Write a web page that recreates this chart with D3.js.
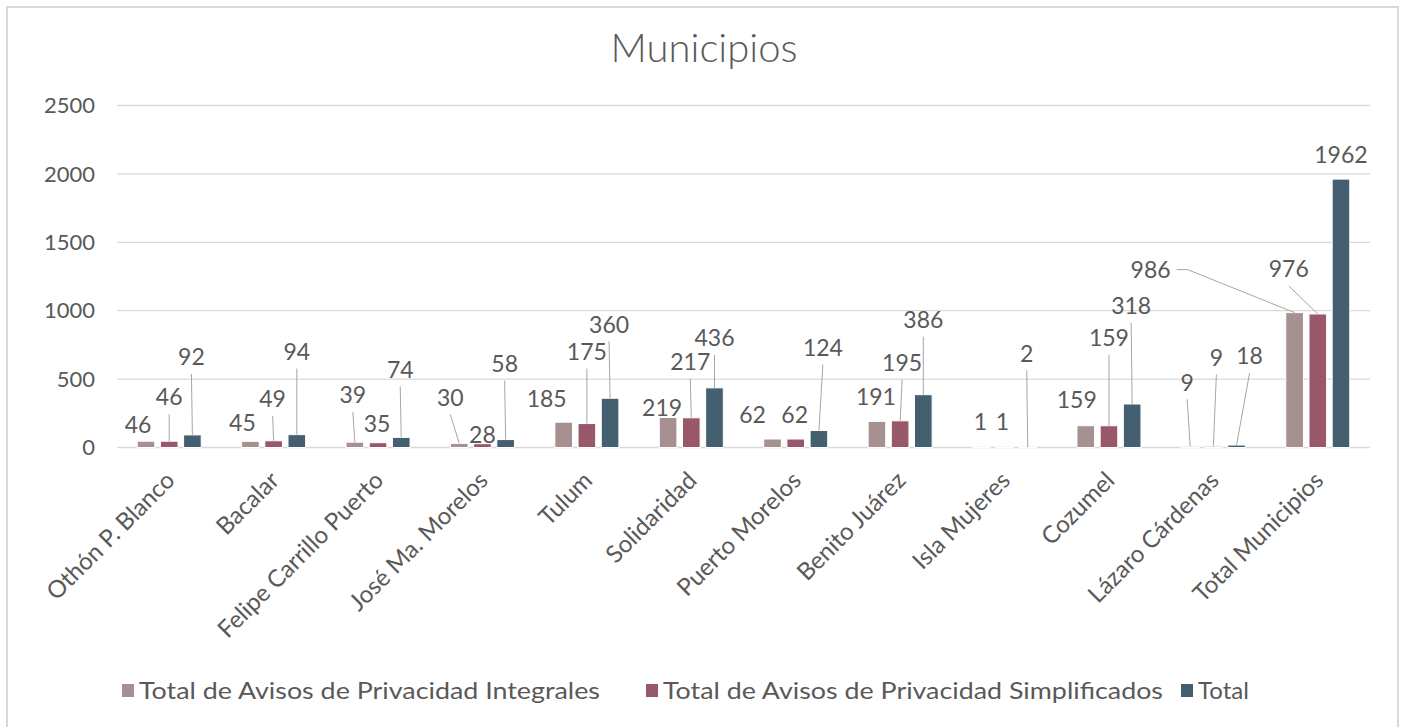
<!DOCTYPE html>
<html>
<head>
<meta charset="utf-8">
<script src="https://cdn.jsdelivr.net/npm/d3@7"></script>
<style>
  body { margin: 0; background: #fff; }
  svg { display: block; }
  text { font-family: "Century Gothic", Lato, "Open Sans", sans-serif; fill: #595959; }
</style>
</head>
<body>
<svg id="chart" width="1405" height="727"></svg>
<script>
// Data
const categories = ['Othón P. Blanco', 'Bacalar', 'Felipe Carrillo Puerto', 'José Ma. Morelos', 'Tulum',
  'Solidaridad', 'Puerto Morelos', 'Benito Juárez', 'Isla Mujeres', 'Cozumel', 'Lázaro Cárdenas', 'Total Municipios'];
const seriesNames = ['Total de Avisos de Privacidad Integrales', 'Total de Avisos de Privacidad Simplificados', 'Total'];
const integrales    = [46, 45, 39, 30, 185, 219, 62, 191, 1, 159, 9, 986];
const simplificados = [46, 49, 35, 28, 175, 217, 62, 195, 1, 159, 9, 976];
const totales       = [92, 94, 74, 58, 360, 436, 124, 386, 2, 318, 18, 1962];
const yTicks = [0, 500, 1000, 1500, 2000, 2500];

// data label offsets (px) from the top centre of each bar, as placed in the original
const offsetsIntegrales = [[-8,-16],[-8,-19],[-2,-47],[-9,-46],[-17,-23],[-6,-10],[-20,-24],[-1,-25],[-1,-26],[-9,-26],[-3,-64],[-144,-43]];
const offsetsSimplificados = [[0,-44],[-1,-42],[-1,-19],[0,-9],[0,-72],[-1,-56],[-1,-24],[2,-58],[-2,-26],[0,-88],[3,-89],[-29,-45]];
const offsetsTotales = [[-1,-78],[0,-83],[-1,-68],[-1,-76],[-1,-74],[0,-50],[4,-83],[0,-75],[-1,-94],[-1,-98],[13,-89],[0,-24]];

const colors = ['#a69090', '#985869', '#445f70'];
const seriesValues = [integrales, simplificados, totales];
const seriesOffsets = [offsetsIntegrales, offsetsSimplificados, offsetsTotales];

const svg = d3.select('#chart');

// chart frame
svg.append('rect')
  .attr('x', 7).attr('y', 7)
  .attr('width', 1391).attr('height', 730)
  .attr('fill', 'none')
  .attr('stroke', '#d9d9d9')
  .attr('stroke-width', 2);

// title
svg.append('text')
  .attr('x', 704).attr('y', 62)
  .attr('text-anchor', 'middle')
  .style('font-size', '40px')
  .style('font-weight', 300)
  .text('Municipios');

const plot = { left: 117, right: 1370, top: 105.5, bottom: 447.5 };

const x = d3.scaleBand()
  .domain(categories)
  .range([plot.left, plot.right])
  .paddingInner(0.387)
  .paddingOuter(0.1935);

const xs = d3.scaleBand()
  .domain(d3.range(3))
  .range([0, x.bandwidth()])
  .paddingInner(0.24);

const y = d3.scaleLinear()
  .domain([0, 2500])
  .range([plot.bottom, plot.top]);

// gridlines
svg.append('g')
  .selectAll('line')
  .data(yTicks)
  .join('line')
  .attr('x1', plot.left).attr('x2', plot.right)
  .attr('y1', d => y(d)).attr('y2', d => y(d))
  .attr('stroke', '#d9d9d9')
  .attr('stroke-width', 1.3);

// y axis labels
svg.append('g')
  .selectAll('text')
  .data(yTicks)
  .join('text')
  .attr('x', 95)
  .attr('y', d => y(d))
  .attr('dy', '0.35em')
  .attr('text-anchor', 'end')
  .style('font-size', '22px')
  .text(d => d);

// bars
const rows = [];
seriesValues.forEach((vals, s) => {
  vals.forEach((v, i) => {
    rows.push({ s, i, v, off: seriesOffsets[s][i] });
  });
});

rows.forEach(r => {
  r.bx = x(categories[r.i]) + xs(r.s) + xs.bandwidth() / 2;
  r.by = y(r.v);
  r.lx = r.bx + r.off[0];
  r.ly = r.by + r.off[1];
});

svg.append('g')
  .selectAll('rect')
  .data(rows)
  .join('rect')
  .attr('x', d => x(categories[d.i]) + xs(d.s))
  .attr('y', d => y(d.v))
  .attr('width', xs.bandwidth())
  .attr('height', d => y(0) - y(d.v))
  .attr('fill', d => colors[d.s])
  .attr('stroke', '#fff')
  .attr('stroke-width', 1);

// data labels
const labels = svg.append('g')
  .selectAll('text')
  .data(rows)
  .join('text')
  .attr('x', d => d.lx)
  .attr('y', d => d.ly)
  .attr('dy', '0.36em')
  .attr('text-anchor', 'middle')
  .style('font-size', '23px')
  .text(d => d.v);

// leader lines for labels moved away from their bars
const leaders = svg.insert('g', 'g:last-of-type');
labels.each(function(d) {
  if (d.off[1] > -35) return;
  if (Math.abs(d.off[0]) > 60) {
    const w = this.getComputedTextLength();
    const sx = d.lx + w / 2 + 6;
    leaders.append('path')
      .attr('d', `M${sx},${d.ly}H${sx + 11}L${d.bx},${d.by}`);
  } else {
    leaders.append('path')
      .attr('d', `M${d.lx},${d.ly + 17}L${d.bx},${d.by}`);
  }
});
leaders.selectAll('path')
  .attr('fill', 'none')
  .attr('stroke', '#a6a6a6')
  .attr('stroke-width', 1);

// category labels
svg.append('g')
  .selectAll('text')
  .data(categories)
  .join('text')
  .attr('transform', d => `translate(${x(d) + x.bandwidth() / 2 + 1},${476}) rotate(-45)`)
  .attr('text-anchor', 'end')
  .attr('dy', '0.35em')
  .style('font-size', '24px')
  .text(d => d);

// legend
const legendX = [122, 646, 1181];
const legendWidths = [461, 500, null];
const legend = svg.append('g')
  .selectAll('g')
  .data(seriesNames)
  .join('g')
  .attr('transform', (d, i) => `translate(${legendX[i]},691)`);

legend.append('rect')
  .attr('x', 0).attr('y', -7)
  .attr('width', 12).attr('height', 13)
  .attr('fill', (d, i) => colors[i]);

legend.append('text')
  .attr('x', 17)
  .attr('dy', '0.35em')
  .attr('textLength', (d, i) => legendWidths[i])
  .attr('lengthAdjust', 'spacingAndGlyphs')
  .style('font-size', '24px')
  .text(d => d);
</script>
</body>
</html>
